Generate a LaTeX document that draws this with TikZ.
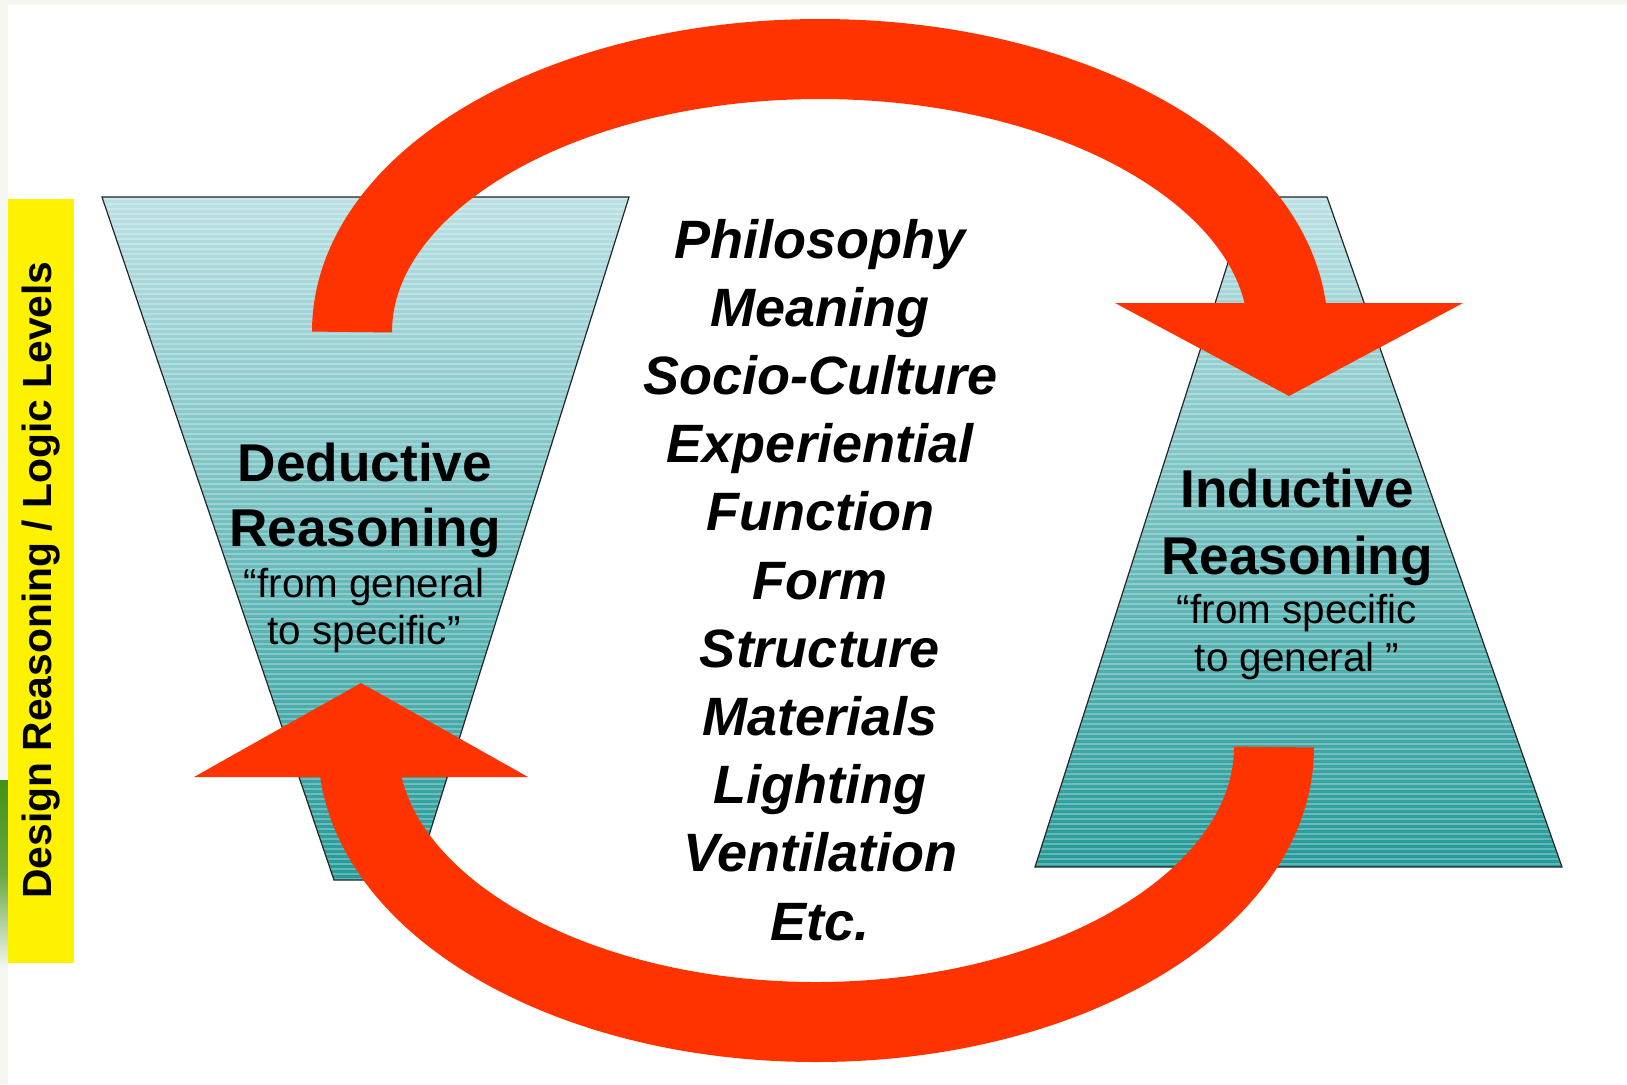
\documentclass[tikz,border=0pt]{standalone}
\usepackage{fontspec}
\setmainfont{Liberation Sans}
\definecolor{arrowred}{RGB}{255,51,0}
\definecolor{teallight}{RGB}{186,224,227}
\definecolor{tealdark}{RGB}{36,154,152}
\definecolor{framegrey}{RGB}{245,246,240}
\definecolor{leafgreen}{RGB}{66,146,22}
\tikzset{
  funnel/.style={top color=teallight, bottom color=tealdark},
  funneledge/.style={draw=black!85, line width=0.6pt},
  stripe/.style={draw=white, opacity=0.28, line width=0.8pt},
  redarc/.style={draw=arrowred, line width=40pt},
  redhead/.style={fill=arrowred},
  listitem/.style={anchor=base, inner sep=0pt, font=\fontsize{27}{32}\selectfont\bfseries\itshape},
  reasoning/.style={anchor=base, inner sep=0pt, font=\fontsize{26.6}{32}\selectfont\bfseries},
  quotetext/.style={anchor=base, inner sep=0pt, font=\fontsize{20.2}{24}\selectfont},
}
\begin{document}
\begin{tikzpicture}[x=0.5pt, y=-0.5pt]
\useasboundingbox (0,0) rectangle (1627,1084);
\fill[white] (0,0) rectangle (1627,1084);
\fill[framegrey] (0,0) rectangle (1627,5);
\fill[framegrey] (0,0) rectangle (8,1084);
\shade[top color=leafgreen, bottom color=framegrey, middle color=leafgreen!80] (0,780) rectangle (8,968);

\fill[yellow] (8,199) rectangle (74,963);
\node[rotate=90, font=\fontsize{20.4}{24}\selectfont\bfseries] (side) at (41,580) {Design Reasoning / Logic Levels};

\path[funnel] (102,197) coordinate (dtl) -- (629,197) coordinate (dtr) -- (415,880) coordinate (dbr) -- (334,880) coordinate (dbl) -- cycle;
\begin{scope}
\clip (dtl) -- (dtr) -- (dbr) -- (dbl) -- cycle;
\foreach \yy in {199,204,...,880} \draw[stripe] (102,\yy) -- (629,\yy);
\end{scope}
\draw[funneledge] (dtl) -- (dtr) -- (dbr) -- (dbl) -- cycle;

\path[funnel] (1035,867) coordinate (ibl) -- (1249,197) coordinate (itl) -- (1327,197) coordinate (itr) -- (1562,867) coordinate (ibr) -- cycle;
\begin{scope}
\clip (ibl) -- (itl) -- (itr) -- (ibr) -- cycle;
\foreach \yy in {199,204,...,867} \draw[stripe] (1035,\yy) -- (1562,\yy);
\end{scope}
\draw[funneledge] (ibl) -- (itl) -- (itr) -- (ibr) -- cycle;

\node[reasoning] (ded1) at (365,481) {Deductive};
\node[reasoning] (ded2) at (365,546) {Reasoning};
\node[quotetext] (dedq1) at (364,597) {“from general};
\node[quotetext] (dedq2) at (364,644) {to specific”};

\node[reasoning] (ind1) at (1297,507) {Inductive};
\node[reasoning] (ind2) at (1297,574) {Reasoning};
\node[quotetext] (indq1) at (1297,623) {“from specific};
\node[quotetext] (indq2) at (1297,671) {to general ”};

\foreach \word [count=\i] in {Philosophy, Meaning, Socio-Culture, Experiential, Function, Form, Structure, Materials, Lighting, Ventilation, Etc.}
  \node[listitem] (level\i) at (820, {258+68.2*(\i-1)}) {\word};

\draw[redarc] (352,332) coordinate (toptail) arc[start angle=180, end angle=3, x radius=234pt, y radius=136.5pt];
\fill[redhead] (1115,303) coordinate (topl) -- (1463,303) coordinate (topr) -- (1289,396) coordinate (toptip) -- cycle;

\draw[redarc] (1274,747) coordinate (bottail) arc[start angle=0, end angle=-177, x radius=229pt, y radius=137.5pt];
\fill[redhead] (194,777) coordinate (botl) -- (528,777) coordinate (botr) -- (361,683) coordinate (bottip) -- cycle;
\end{tikzpicture}
\end{document}
